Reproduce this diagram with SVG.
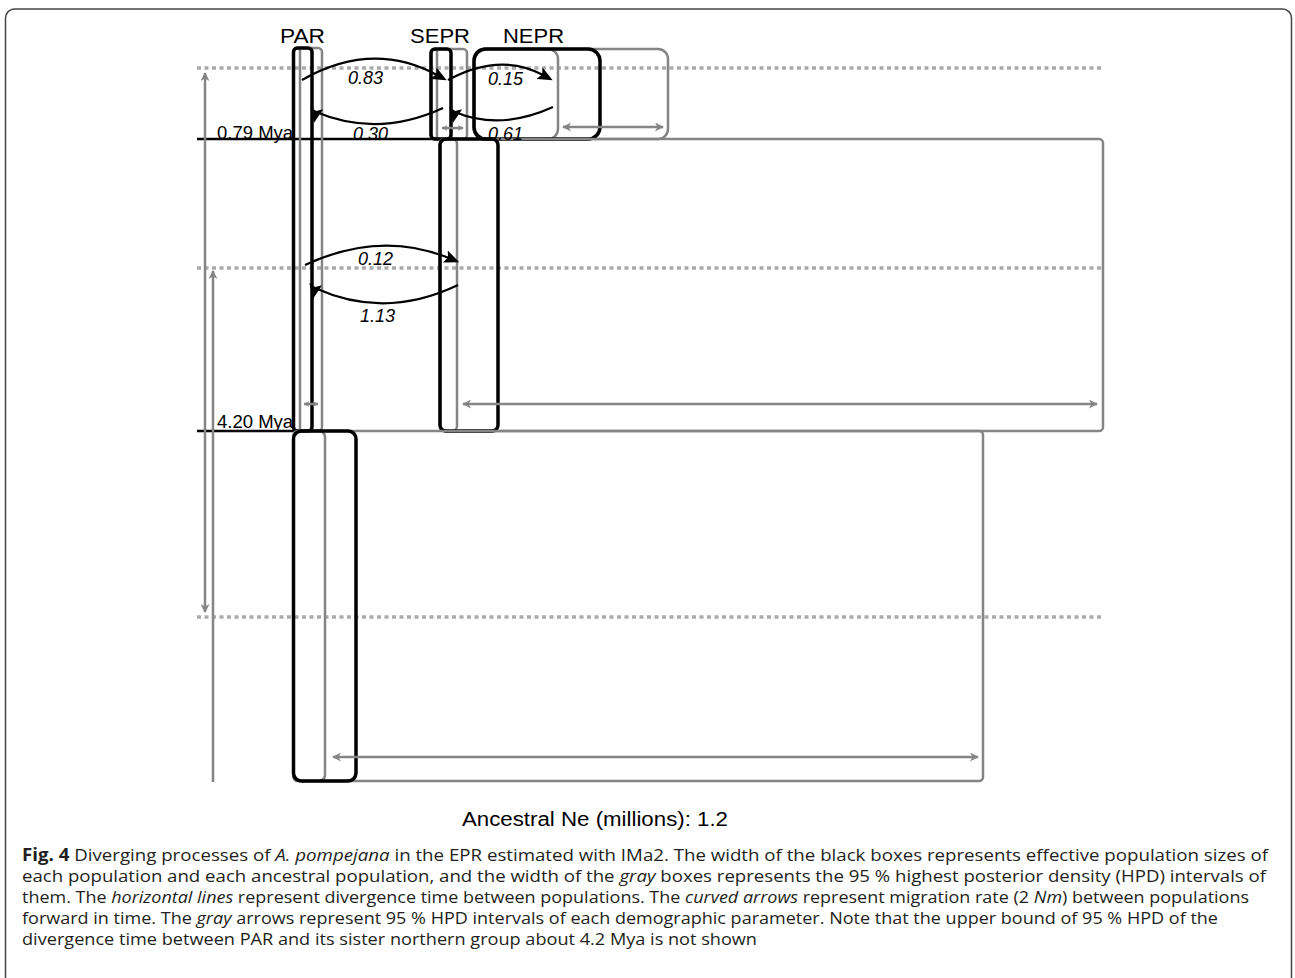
<svg xmlns="http://www.w3.org/2000/svg" width="1295" height="978" viewBox="0 0 1295 978">
<style>
.blk{fill:none;stroke:#000;stroke-width:3.5}
.gry{fill:none;stroke:#858585;stroke-width:2.5}
.dot{fill:none;stroke:#ababab;stroke-width:3.5;stroke-dasharray:4 3.5}
.ln{fill:none;stroke:#000;stroke-width:2.5}
.mig{fill:none;stroke:#000;stroke-width:2.2}
.hpd{fill:none;stroke:#858585;stroke-width:2.5}
.lab{font-family:"Liberation Sans",Arial,sans-serif;fill:#000}
.num{font-family:"Liberation Sans",Arial,sans-serif;font-style:italic;font-size:18px;fill:#000}
.cap{font-family:"Open Sans",sans-serif;font-size:17px;fill:#231f20}
.it{font-style:italic}
</style>
<defs>
<marker id="gh" viewBox="0 0 10 10" refX="9" refY="5" markerWidth="10" markerHeight="9" markerUnits="userSpaceOnUse" orient="auto-start-reverse"><path d="M0,0 L10,5 L0,10 L3,5 z" fill="#858585"/></marker>
<marker id="gs" viewBox="0 0 10 10" refX="9" refY="5" markerWidth="6" markerHeight="6" markerUnits="userSpaceOnUse" orient="auto-start-reverse"><path d="M0,0 L10,5 L0,10 L3,5 z" fill="#858585"/></marker>
<marker id="bh" viewBox="0 -7 16 14" refX="4" refY="0" markerWidth="16" markerHeight="14" markerUnits="userSpaceOnUse" orient="auto"><path d="M0,-6.5 L15,0 L0,6.5 L3,0 z" fill="#000"/></marker>
<marker id="bd" viewBox="0 -7 16 14" refX="4" refY="0" markerWidth="16" markerHeight="14" markerUnits="userSpaceOnUse" orient="100"><path d="M0,-6.5 L15,0 L0,6.5 L3,0 z" fill="#000"/></marker>
</defs>
<rect x="5.5" y="9" width="1286" height="990" rx="9" fill="#fff" stroke="#444" stroke-width="1.5"/>

<g id="time-grid">
<line class="dot" x1="197" y1="68" x2="1103" y2="68"/>
<line class="dot" x1="197" y1="268" x2="1103" y2="268"/>
<line class="dot" x1="197" y1="617" x2="1103" y2="617"/>
<line class="ln" x1="197" y1="139" x2="441" y2="139"/>
<line class="ln" x1="197" y1="431" x2="294" y2="431"/>
<text class="lab" x="217" y="139" font-size="18.5">0.79 Mya</text>
<text class="lab" x="217" y="428" font-size="18.5">4.20 Mya</text>
</g>

<g id="PAR">
<rect class="gry" x="293.5" y="48" width="28.5" height="383" rx="4"/>
<rect class="gry" x="293.5" y="48" width="6.5" height="383" rx="3"/>
<rect class="blk" x="293.5" y="48" width="18.5" height="383" rx="4"/>
<text class="lab" x="280" y="43" font-size="20" textLength="45" lengthAdjust="spacingAndGlyphs">PAR</text>
</g>

<g id="SEPR">
<rect class="gry" x="431" y="49" width="36" height="90" rx="4"/>
<rect class="gry" x="431" y="49" width="6" height="90" rx="3"/>
<rect class="blk" x="431" y="49" width="20" height="90" rx="4"/>
<text class="lab" x="410" y="43" font-size="20" textLength="60" lengthAdjust="spacingAndGlyphs">SEPR</text>
</g>

<g id="NEPR">
<rect class="gry" x="474" y="49" width="194" height="90" rx="10"/>
<rect class="gry" x="474" y="49" width="84" height="90" rx="10"/>
<rect class="blk" x="474" y="49" width="126" height="90" rx="12"/>
<text class="lab" x="503" y="43" font-size="20" textLength="61" lengthAdjust="spacingAndGlyphs">NEPR</text>
</g>

<g id="ancestor-SEPR-NEPR">
<rect class="gry" x="440" y="139" width="663" height="292" rx="4"/>
<rect class="gry" x="440" y="139" width="17" height="292" rx="5"/>
<rect class="blk" x="440" y="139" width="58" height="292" rx="6"/>
</g>

<g id="ancestor-all">
<rect class="gry" x="293.5" y="431" width="689.5" height="350" rx="4"/>
<rect class="gry" x="293.5" y="431" width="31.5" height="350" rx="6"/>
<rect class="blk" x="293.5" y="431" width="62.5" height="350" rx="8"/>
</g>

<g id="connectors">
<line class="hpd" x1="304" y1="404" x2="318" y2="404" marker-start="url(#gs)" marker-end="url(#gs)"/>
<line class="hpd" x1="442" y1="128" x2="463" y2="128" marker-start="url(#gs)" marker-end="url(#gs)"/>
<line class="hpd" x1="563" y1="127" x2="663" y2="127" marker-start="url(#gh)" marker-end="url(#gh)"/>
<line class="hpd" x1="463" y1="404" x2="1097" y2="404" marker-start="url(#gh)" marker-end="url(#gh)"/>
<line class="hpd" x1="333" y1="757" x2="978" y2="757" marker-start="url(#gh)" marker-end="url(#gh)"/>
<line class="hpd" x1="205" y1="73" x2="205" y2="612" marker-start="url(#gh)" marker-end="url(#gh)"/>
<line class="hpd" x1="213" y1="782" x2="213" y2="271" marker-end="url(#gh)"/>

<path class="mig" d="M302,80 Q372,40 437,75" marker-end="url(#bh)"/>
<path class="mig" d="M443,108 Q378,138 316,112" marker-end="url(#bd)"/>
<path class="mig" d="M448,80 Q500,52 543,75" marker-end="url(#bh)"/>
<path class="mig" d="M553,107 Q500,131 455,112" marker-end="url(#bd)"/>
<path class="mig" d="M305,265 Q380,230 449,258" marker-end="url(#bh)"/>
<path class="mig" d="M458,285 Q385,320 315,288" marker-end="url(#bd)"/>
<text class="num" x="348" y="84">0.83</text>
<text class="num" x="353" y="140">0.30</text>
<text class="num" x="488" y="85">0.15</text>
<text class="num" x="488" y="140">0.61</text>
<text class="num" x="358" y="265">0.12</text>
<text class="num" x="360" y="322">1.13</text>
</g>

<text class="lab" x="462" y="826" font-size="19.5" textLength="266" lengthAdjust="spacingAndGlyphs">Ancestral Ne (millions): 1.2</text>

<g id="caption">
<text class="cap" x="22" y="861" textLength="1246" lengthAdjust="spacingAndGlyphs"><tspan font-weight="bold">Fig. 4</tspan> Diverging processes of <tspan class="it">A. pompejana</tspan> in the EPR estimated with IMa2. The width of the black boxes represents effective population sizes of</text>
<text class="cap" x="22" y="882" textLength="1244" lengthAdjust="spacingAndGlyphs">each population and each ancestral population, and the width of the <tspan class="it">gray</tspan> boxes represents the 95 % highest posterior density (HPD) intervals of</text>
<text class="cap" x="22" y="903" textLength="1227" lengthAdjust="spacingAndGlyphs">them. The <tspan class="it">horizontal lines</tspan> represent divergence time between populations. The <tspan class="it">curved arrows</tspan> represent migration rate (2 <tspan class="it">Nm</tspan>) between populations</text>
<text class="cap" x="22" y="924" textLength="1196" lengthAdjust="spacingAndGlyphs">forward in time. The <tspan class="it">gray</tspan> arrows represent 95 % HPD intervals of each demographic parameter. Note that the upper bound of 95 % HPD of the</text>
<text class="cap" x="22" y="945" textLength="735" lengthAdjust="spacingAndGlyphs">divergence time between PAR and its sister northern group about 4.2 Mya is not shown</text>
</g>
</svg>
